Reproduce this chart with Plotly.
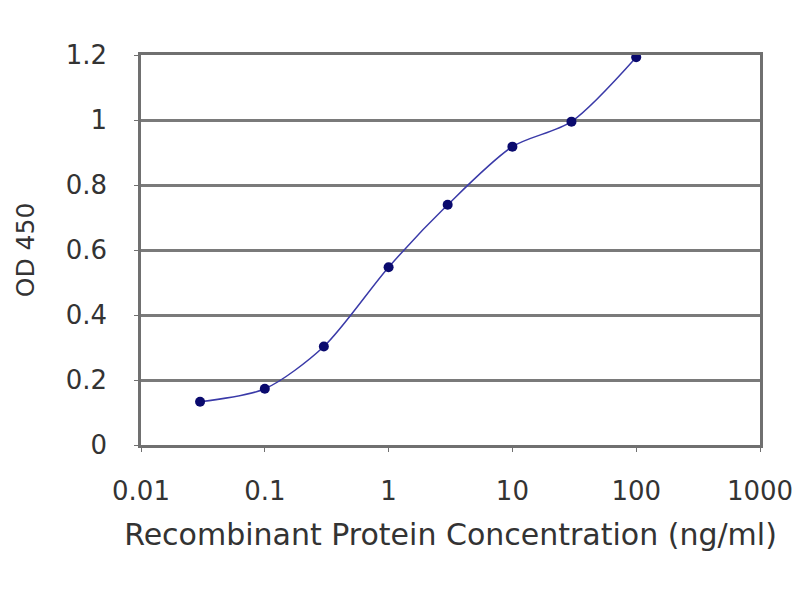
import plotly.graph_objects as go

# concentration (ng/ml) and OD 450 readings
conc = [0.03, 0.1, 0.3, 1, 3, 10, 30, 100]
od450 = [0.133, 0.173, 0.303, 0.547, 0.739, 0.918, 0.995, 1.193]

x_tickvals = [0.01, 0.1, 1, 10, 100, 1000]
x_ticktext = ['0.01', '0.1', '1', '10', '100', '1000']
y_tickvals = [0, 0.2, 0.4, 0.6, 0.8, 1, 1.2]
y_ticktext = ['0', '0.2', '0.4', '0.6', '0.8', '1', '1.2']

txt = '#333333'
tick_font = dict(family='DejaVu Sans, sans-serif', size=26, color=txt)

fig = go.Figure()
fig.add_trace(go.Scatter(
    x=conc, y=od450,
    mode='lines+markers',
    line=dict(color='#3a3aa8', width=1.5, shape='spline', smoothing=0.8),
    marker=dict(color='#0a0a6e', size=10),
    showlegend=False
))

# page body adds an 8px offset, margins compensate for it
fig.update_layout(
    width=800, height=600,
    margin=dict(l=133, r=48, t=47, b=163),
    paper_bgcolor='white',
    plot_bgcolor='white',
    xaxis=dict(
        type='log',
        range=[-2, 3],
        tickvals=x_tickvals,
        ticktext=x_ticktext,
        tickfont=tick_font,
        ticklabelstandoff=17,
        showgrid=False,
        showline=True, linecolor='#707070', linewidth=2.5, mirror=True,
        ticks='outside', ticklen=4, tickcolor='#707070',
        title=dict(text='Recombinant Protein Concentration (ng/ml)',
                   font=dict(family='DejaVu Sans, sans-serif', size=30, color=txt),
                   standoff=20),
        automargin=False,
        zeroline=False,
    ),
    yaxis=dict(
        range=[0, 1.2],
        tickvals=y_tickvals,
        ticktext=y_ticktext,
        tickfont=tick_font,
        ticklabelstandoff=22,
        showgrid=True, gridcolor='#7a7a7a', gridwidth=2.5,
        showline=True, linecolor='#707070', linewidth=2.5, mirror=True,
        ticks='outside', ticklen=4, tickcolor='#707070',
        title=dict(text='OD 450',
                   font=dict(family='DejaVu Sans, sans-serif', size=25, color=txt),
                   standoff=24),
        automargin=False,
        zeroline=False,
    ),
)

fig.write_html("out.html")
